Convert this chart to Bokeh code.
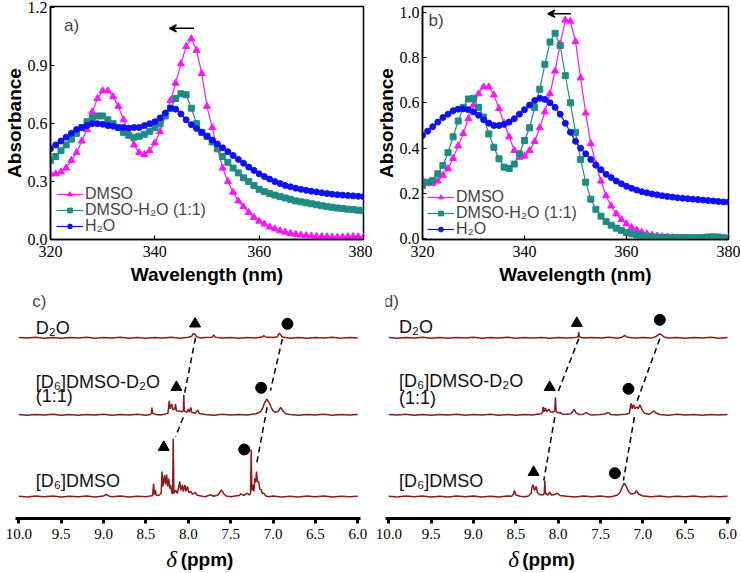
from bokeh.plotting import figure
from bokeh.layouts import row, column
from bokeh.models import (Range1d, Legend, LegendItem, Label, Arrow, VeeHead,
                          FixedTicker, PrintfTickFormatter, ColumnDataSource)
from bokeh.core.properties import value
from bokeh.embed import file_html
from bokeh.resources import INLINE

# ---------------- UV-vis data ----------------
wavelength = list(range(320, 381))

a_dmso = [0.34, 0.34, 0.35, 0.37, 0.41, 0.45, 0.51, 0.57, 0.66, 0.73,
          0.77, 0.77, 0.74, 0.69, 0.62, 0.55, 0.49, 0.45, 0.44, 0.46,
          0.50, 0.56, 0.64, 0.72, 0.81, 0.91, 1.00, 1.04, 0.98, 0.86,
          0.69, 0.58, 0.47, 0.37, 0.30, 0.245, 0.20, 0.17, 0.14, 0.115,
          0.095, 0.08, 0.065, 0.055, 0.045, 0.038, 0.032, 0.027, 0.023, 0.02,
          0.018, 0.016, 0.015, 0.014, 0.013, 0.012, 0.013, 0.014, 0.015, 0.014,
          0.012]
a_mix = [0.41, 0.43, 0.46, 0.49, 0.52, 0.55, 0.58, 0.61, 0.63, 0.64,
         0.64, 0.62, 0.60, 0.58, 0.555, 0.54, 0.53, 0.535, 0.545, 0.56,
         0.58, 0.60, 0.64, 0.68, 0.73, 0.755, 0.75, 0.68, 0.60, 0.555,
         0.535, 0.505, 0.47, 0.43, 0.40, 0.37, 0.345, 0.32, 0.30, 0.28,
         0.26, 0.248, 0.238, 0.23, 0.222, 0.215, 0.208, 0.20, 0.195, 0.19,
         0.185, 0.18, 0.175, 0.17, 0.167, 0.163, 0.16, 0.157, 0.155, 0.152,
         0.15]
a_h2o = [0.47, 0.49, 0.51, 0.53, 0.55, 0.57, 0.58, 0.59, 0.60, 0.60,
         0.597, 0.59, 0.587, 0.58, 0.58, 0.577, 0.58, 0.58, 0.59, 0.60,
         0.61, 0.63, 0.655, 0.68, 0.675, 0.65, 0.62, 0.595, 0.575, 0.555,
         0.535, 0.515, 0.495, 0.475, 0.455, 0.435, 0.415, 0.395, 0.375, 0.358,
         0.34, 0.326, 0.313, 0.30, 0.29, 0.28, 0.273, 0.266, 0.26, 0.255,
         0.25, 0.246, 0.242, 0.238, 0.235, 0.232, 0.23, 0.228, 0.226, 0.224,
         0.222]

b_dmso = [0.26, 0.245, 0.245, 0.255, 0.28, 0.31, 0.355, 0.41, 0.465, 0.53,
          0.59, 0.64, 0.67, 0.67, 0.635, 0.575, 0.51, 0.45, 0.39, 0.36,
          0.365, 0.39, 0.43, 0.49, 0.56, 0.64, 0.74, 0.86, 0.965, 0.96,
          0.87, 0.71, 0.555, 0.42, 0.33, 0.255, 0.19, 0.145, 0.11, 0.085,
          0.066, 0.05, 0.038, 0.029, 0.022, 0.016, 0.012, 0.009, 0.007, 0.005,
          0.004, 0.004, 0.003, 0.003, 0.003, 0.003, 0.003, 0.003, 0.003, 0.002,
          0.002]
b_mix = [0.235, 0.25, 0.257, 0.287, 0.323, 0.38, 0.45, 0.52, 0.58, 0.617,
         0.62, 0.58, 0.537, 0.463, 0.404, 0.353, 0.316, 0.31, 0.33, 0.375,
         0.434, 0.49, 0.58, 0.66, 0.77, 0.868, 0.907, 0.853, 0.72, 0.60,
         0.47, 0.35, 0.25, 0.175, 0.13, 0.10, 0.076, 0.06, 0.047, 0.037,
         0.028, 0.022, 0.017, 0.013, 0.01, 0.008, 0.007, 0.006, 0.006, 0.005,
         0.005, 0.005, 0.005, 0.005, 0.005, 0.006, 0.008, 0.009, 0.008, 0.005,
         0.002]
b_h2o = [0.456, 0.475, 0.495, 0.515, 0.535, 0.55, 0.565, 0.572, 0.573, 0.57,
         0.56, 0.545, 0.525, 0.51, 0.50, 0.50, 0.505, 0.515, 0.53, 0.55,
         0.57, 0.59, 0.61, 0.62, 0.615, 0.60, 0.58, 0.55, 0.51, 0.47,
         0.43, 0.40, 0.375, 0.35, 0.325, 0.305, 0.285, 0.27, 0.255, 0.243,
         0.232, 0.223, 0.215, 0.208, 0.203, 0.198, 0.194, 0.19, 0.187, 0.184,
         0.181, 0.179, 0.177, 0.175, 0.173, 0.171, 0.169, 0.167, 0.165, 0.163,
         0.162]

uv_names = ["DMSO", "DMSO-H\u2082O (1:1)", "H\u2082O"]
a_yticks = [0.0, 0.3, 0.6, 0.9, 1.2]
b_yticks = [0.0, 0.2, 0.4, 0.6, 0.8, 1.0]
x_ticks_uv = [320, 340, 360, 380]
a_shift_arrow = [347.5, 342.8, 1.094]   # start nm, end nm, absorbance
b_shift_arrow = [349.1, 344.6, 0.993]

# ---------------- 1H NMR data (ppm, intensity above own baseline) ----------------
c_dmso = [(10.0, 0.3), (9.9, -0.4), (9.8, 0.5), (9.7, -0.3), (9.6, 0.4), (9.5, -0.5), (9.4, 0.3),
          (9.3, -0.2), (9.2, 0.5), (9.1, -0.4), (9.0, 0.6), (8.97, 2.0), (8.93, 0.3), (8.9, -0.3),
          (8.8, 0.4), (8.7, -0.5), (8.6, 0.3), (8.5, -0.2), (8.45, 0.6), (8.42, 1.0), (8.41, 13.0),
          (8.40, 2.0), (8.39, 6.5), (8.38, 1.5), (8.35, 1.0), (8.32, 3.0), (8.31, 25.0), (8.30, 10.0),
          (8.28, 21.5), (8.27, 12.0), (8.255, 22.0), (8.245, 10.0), (8.23, 18.0), (8.22, 8.0),
          (8.21, 11.5), (8.195, 4.0), (8.185, 2.5), (8.178, 57.7), (8.17, 3.0), (8.15, 6.5),
          (8.13, 3.0), (8.10, 15.0), (8.09, 6.0), (8.07, 11.5), (8.06, 5.0), (8.04, 11.5),
          (8.03, 5.0), (8.01, 10.0), (7.995, 4.0), (7.97, 5.0), (7.95, 2.0), (7.92, 4.3),
          (7.90, 1.5), (7.85, 0.5), (7.80, -0.3), (7.74, 1.7), (7.70, 0.3), (7.65, 1.5),
          (7.61, 6.7), (7.58, 2.5), (7.55, 0.4), (7.50, -0.3), (7.45, 0.5), (7.40, 1.0),
          (7.38, 2.7), (7.35, 1.0), (7.30, 3.3), (7.28, 1.5), (7.265, 3.0), (7.258, 46.7),
          (7.25, 6.0), (7.235, 11.7), (7.225, 5.0), (7.215, 18.3), (7.205, 14.0), (7.195, 25.0),
          (7.185, 15.0), (7.17, 15.0), (7.155, 7.0), (7.14, 6.7), (7.125, 3.0), (7.11, 3.3),
          (7.09, 0.8), (7.05, -0.3), (7.0, 0.5), (6.9, -0.4), (6.8, 0.3), (6.7, -0.5), (6.6, 0.4),
          (6.5, -0.2), (6.4, 0.5), (6.3, -0.4), (6.2, 0.3), (6.1, -0.3), (6.0, 0.2)]
c_mix = [(10.0, 0.3), (9.9, -0.5), (9.8, 0.4), (9.7, -0.3), (9.6, 0.5), (9.5, -0.4), (9.4, 0.3),
         (9.3, -0.5), (9.2, 0.4), (9.1, -0.3), (9.0, 0.5), (8.9, -0.4), (8.8, 0.3), (8.7, -0.3),
         (8.6, 0.5), (8.5, -0.4), (8.45, 0.3), (8.435, 1.5), (8.43, 7.3), (8.42, 1.5), (8.38, 0.3),
         (8.33, -0.3), (8.28, 0.6), (8.24, 1.5), (8.225, 14.0), (8.215, 6.0), (8.195, 10.7),
         (8.18, 5.0), (8.16, 6.0), (8.15, 10.7), (8.14, 4.0), (8.10, 3.5), (8.07, 3.0),
         (8.058, 4.0), (8.053, 20.0), (8.048, 4.0), (8.02, 2.5), (8.0, 5.7), (7.99, 2.5),
         (7.97, 7.3), (7.96, 2.5), (7.92, 1.5), (7.89, 4.7), (7.87, 1.2), (7.8, 0.3), (7.7, -0.4),
         (7.6, 0.5), (7.5, -0.3), (7.4, 0.4), (7.3, -0.2), (7.25, 0.6), (7.2, 1.0), (7.15, 3.0),
         (7.12, 7.0), (7.10, 12.0), (7.08, 15.0), (7.07, 15.7), (7.06, 14.0), (7.04, 11.0),
         (7.02, 7.0), (7.0, 4.0), (6.97, 2.5), (6.94, 3.5), (6.91, 7.3), (6.88, 3.5), (6.85, 1.0),
         (6.8, 0.3), (6.7, -0.4), (6.6, 0.4), (6.5, -0.3), (6.4, 0.5), (6.3, -0.4), (6.2, 0.3),
         (6.1, -0.3), (6.0, 0.2)]
c_d2o = [(10.0, 0.4), (9.9, -0.3), (9.8, 0.5), (9.7, -0.4), (9.6, 0.3), (9.5, -0.5), (9.4, 0.4),
         (9.3, -0.3), (9.2, 0.5), (9.1, -0.4), (9.0, 0.3), (8.9, -0.3), (8.8, 0.5), (8.7, -0.4),
         (8.6, 0.3), (8.5, -0.5), (8.4, 0.4), (8.3, -0.3), (8.2, 0.5), (8.1, -0.4), (8.0, 0.6),
         (7.96, 1.5), (7.945, 4.0), (7.93, 4.0), (7.92, 3.5), (7.905, 1.2), (7.85, -0.3), (7.8, 0.4),
         (7.72, 0.5), (7.70, 3.0), (7.68, 0.5), (7.6, -0.3), (7.5, 0.3), (7.4, -0.4), (7.3, 0.4),
         (7.2, -0.2), (7.12, 1.0), (7.11, 2.3), (7.09, 0.8), (7.0, 0.3), (6.95, 1.0), (6.925, 4.7),
         (6.91, 3.0), (6.89, 0.8), (6.85, 0.2), (6.8, -0.4), (6.7, 0.3), (6.6, -0.5), (6.5, 0.4),
         (6.4, -0.3), (6.3, 0.5), (6.2, -0.4), (6.1, 0.3), (6.0, -0.2)]

d_dmso = [(10.0, 0.3), (9.9, -0.4), (9.8, 0.5), (9.7, -0.3), (9.6, 0.4), (9.5, -0.5), (9.4, 0.3),
          (9.3, -0.4), (9.2, 0.5), (9.1, -0.3), (9.0, 0.4), (8.9, -0.5), (8.8, 0.3), (8.7, -0.4),
          (8.6, 0.5), (8.55, 0.3), (8.53, 2.0), (8.516, 6.0), (8.5, 1.5), (8.45, 0.3), (8.4, -0.3),
          (8.35, 0.5), (8.32, 3.0), (8.307, 10.0), (8.295, 11.7), (8.28, 6.0), (8.26, 10.0),
          (8.245, 4.0), (8.22, 2.0), (8.18, 1.5), (8.165, 3.0), (8.158, 16.0), (8.15, 3.0),
          (8.12, 1.5), (8.1, 4.3), (8.08, 1.5), (8.04, 2.0), (8.01, 3.3), (7.98, 1.0), (7.9, 0.3),
          (7.8, -0.4), (7.7, 0.4), (7.6, -0.3), (7.5, 0.5), (7.4, -0.4), (7.35, 0.3), (7.3, 1.5),
          (7.27, 4.0), (7.24, 10.0), (7.22, 13.3), (7.20, 11.0), (7.17, 5.0), (7.14, 2.5),
          (7.10, 3.0), (7.075, 5.7), (7.05, 2.5), (7.0, 0.4), (6.9, -0.3), (6.8, 0.5), (6.7, -0.4),
          (6.6, 0.3), (6.5, -0.3), (6.4, 0.5), (6.3, -0.4), (6.2, 0.3), (6.1, -0.2), (6.0, 0.3)]
d_mix = [(10.0, 0.4), (9.9, -0.3), (9.8, 0.5), (9.7, -0.4), (9.6, 0.3), (9.5, -0.5), (9.4, 0.4),
         (9.3, -0.3), (9.2, 0.5), (9.1, -0.4), (9.0, 0.3), (8.9, -0.3), (8.8, 0.5), (8.7, -0.4),
         (8.6, 0.3), (8.5, -0.5), (8.4, 0.4), (8.3, -0.3), (8.25, 0.5), (8.2, 1.0), (8.185, 3.0),
         (8.177, 8.0), (8.165, 3.0), (8.15, 6.7), (8.135, 3.0), (8.11, 5.7), (8.09, 3.0),
         (8.06, 2.5), (8.04, 4.0), (8.032, 17.3), (8.025, 3.5), (8.0, 2.0), (7.98, 2.3),
         (7.95, 0.8), (7.9, 0.5), (7.85, 1.0), (7.82, 4.0), (7.81, 5.7), (7.79, 2.0), (7.75, 0.3),
         (7.7, 0.6), (7.67, 2.3), (7.64, 0.6), (7.6, -0.3), (7.5, 0.4), (7.45, 0.8), (7.41, 2.3),
         (7.38, 0.4), (7.3, -0.3), (7.25, 0.4), (7.2, 0.6), (7.16, 1.5), (7.145, 9.0),
         (7.138, 11.3), (7.125, 6.0), (7.11, 10.0), (7.095, 6.0), (7.07, 8.0), (7.055, 6.0),
         (7.035, 10.0), (7.03, 9.0), (7.01, 5.0), (7.0, 4.0), (6.98, 1.5), (6.93, 0.5),
         (6.89, 2.5), (6.87, 4.0), (6.85, 2.0), (6.8, 0.3), (6.7, -0.4), (6.6, 0.5), (6.5, -0.3),
         (6.4, 0.4), (6.3, -0.5), (6.2, 0.3), (6.1, -0.3), (6.0, 0.4)]
d_d2o = [(10.0, 0.3), (9.9, -0.4), (9.8, 0.4), (9.7, -0.3), (9.6, 0.5), (9.5, -0.4), (9.4, 0.3),
         (9.3, -0.5), (9.2, 0.4), (9.1, -0.3), (9.0, 0.5), (8.9, -0.4), (8.8, 0.3), (8.7, -0.3),
         (8.6, 0.5), (8.5, -0.4), (8.4, 0.3), (8.3, -0.3), (8.2, 0.4), (8.1, -0.5), (8.0, 0.3),
         (7.9, -0.3), (7.8, 0.4), (7.765, 0.8), (7.757, 5.7), (7.75, 0.8), (7.7, -0.3), (7.6, 0.4),
         (7.5, -0.3), (7.4, 0.5), (7.3, -0.4), (7.25, 0.5), (7.21, 2.3), (7.18, 0.5), (7.1, -0.3),
         (7.0, 0.4), (6.9, -0.3), (6.85, 1.0), (6.82, 3.0), (6.80, 4.0), (6.78, 3.0), (6.75, 0.8),
         (6.7, -0.3), (6.6, 0.4), (6.5, -0.4), (6.4, 0.3), (6.3, -0.3), (6.2, 0.5), (6.1, -0.4),
         (6.0, 0.3)]

nmr_offsets = [0.0, 81.7, 158.7]          # [D6]DMSO, mixture, D2O baselines
nmr_ticks = [10.0, 9.5, 9.0, 8.5, 8.0, 7.5, 7.0, 6.5, 6.0]
nmr_names = ["[D\u2086]DMSO", "[D\u2086]DMSO-D\u2082O", "(1:1)", "D\u2082O"]

c_label_y = [16.0, 115.0, 101.0, 168.5]
d_label_y = [16.0, 116.0, 99.0, 169.3]

c_tri = ([7.92, 8.14, 8.29], [172.7, 109.3, 49.3])
c_dot = ([6.83, 7.14, 7.34], [172.7, 108.7, 47.0])
d_tri = ([7.78, 8.10, 8.29], [173.3, 109.3, 24.3])
d_dot = ([6.80, 7.17, 7.33], [176.7, 107.7, 23.3])

# dashed guide lines: (x0, y0, x1, y1)
c_links = [(7.915, 158.7, 8.053, 99.3), (8.06, 79.0, 8.15, 60.0),
           (6.89, 157.7, 7.03, 106.0), (7.07, 89.3, 7.195, 32.0)]
d_links = [(7.757, 157.7, 8.01, 102.7), (8.04, 79.3, 8.17, 16.0),
           (6.80, 157.7, 7.07, 95.0), (7.10, 79.3, 7.23, 16.0)]

# ---------------- styling ----------------
SANS = "Liberation Sans"
SERIF = "Liberation Serif"
MAGENTA = "#ff14ff"
TEAL = "#1f8c84"
BLUE = "#1010f5"
NMR_RED = "#8b1a1a"


def uv_panel(width, bl, br, bb, yrange, yticks, series, leg_x, leg_ys, tag, tag_pos, arrow):
    p = figure(width=width, height=291, x_range=Range1d(320, 380), y_range=Range1d(*yrange),
               output_backend="svg", toolbar_location=None,
               min_border_left=bl, min_border_right=br, min_border_top=6, min_border_bottom=bb)
    p.outline_line_color = "black"
    p.outline_line_width = 1.5
    p.grid.visible = False
    for ax in (p.xaxis[0], p.yaxis[0]):
        ax.major_tick_in = 4
        ax.major_tick_out = 0
        ax.minor_tick_line_color = None
        ax.axis_line_width = 1.5
        ax.major_tick_line_width = 1.2
        ax.major_label_text_font = SERIF
        ax.major_label_text_font_size = "16px"
        ax.major_label_text_color = "black"
        ax.axis_label_text_font = SANS
        ax.axis_label_text_font_style = "bold"
        ax.axis_label_text_font_size = "19px"
        ax.axis_label_text_color = "black"
    p.xaxis.ticker = FixedTicker(ticks=x_ticks_uv)
    p.yaxis.ticker = FixedTicker(ticks=yticks)
    p.yaxis.formatter = PrintfTickFormatter(format="%.1f")
    p.xaxis.axis_label = "Wavelength (nm)"
    p.yaxis.axis_label = "Absorbance"
    p.xaxis.major_label_standoff = 6
    p.xaxis.axis_label_standoff = 4
    p.yaxis.major_label_standoff = 3
    p.yaxis.axis_label_standoff = 0

    for (name, ys, color, marker, msize), ly in zip(series, leg_ys):
        src = ColumnDataSource(dict(x=wavelength, y=ys))
        ln = p.line("x", "y", source=src, color=color, line_width=1.2)
        sc = p.scatter("x", "y", source=src, marker=marker, size=msize, color=color)
        leg = Legend(items=[LegendItem(label=name, renderers=[ln, sc])], location=(leg_x, ly),
                     label_text_font=SANS, label_text_font_size="16px",
                     glyph_width=27, glyph_height=12, label_height=12, label_standoff=2,
                     spacing=0, padding=0, margin=0,
                     border_line_color=None, background_fill_alpha=0)
        p.add_layout(leg)

    p.add_layout(Label(x=tag_pos[0], y=tag_pos[1], text=tag, text_font=SANS,
                       text_font_size="17px", text_baseline="middle", text_align="left"))
    p.add_layout(Arrow(x_start=arrow[0], y_start=arrow[2], x_end=arrow[1], y_end=arrow[2],
                       line_width=1.5, line_color="black",
                       end=VeeHead(size=7, line_color="black", fill_color="black", line_width=1.5)))
    return p


def nmr_panel(width, bl, br, xr, spectra, label_x, label_y, tri, dot, links, tag, tag_pos):
    p = figure(width=width, height=257, x_range=Range1d(*xr), y_range=Range1d(-22.0, 205.0),
               y_axis_location=None, output_backend="svg", toolbar_location=None,
               min_border_left=bl, min_border_right=br, min_border_top=0, min_border_bottom=30)
    p.outline_line_color = None
    p.grid.visible = False
    ax = p.xaxis[0]
    ax.ticker = FixedTicker(ticks=nmr_ticks)
    ax.formatter = PrintfTickFormatter(format="%.1f")
    ax.axis_line_width = 3
    ax.major_tick_line_width = 3
    ax.major_tick_out = 5
    ax.major_tick_in = 0
    ax.minor_tick_line_color = None
    ax.major_label_text_font = SERIF
    ax.major_label_text_font_size = "15px"
    ax.major_label_text_color = "black"
    ax.major_label_standoff = 5

    for spec, off in zip(spectra, nmr_offsets):
        xs = [s[0] for s in spec]
        ys = [s[1] + off for s in spec]
        p.line(xs, ys, color=NMR_RED, line_width=1.5)

    p.segment(x0=[l[0] for l in links], y0=[l[1] for l in links],
              x1=[l[2] for l in links], y1=[l[3] for l in links],
              line_color="black", line_width=1.5, line_dash="6 4")
    p.scatter(tri[0], tri[1], marker="triangle", size=11, color="black")
    p.scatter(dot[0], dot[1], marker="circle", size=11, color="black")

    p.text(x=[label_x] * len(nmr_names), y=label_y, text=nmr_names,
           text_font=value(SANS), text_font_size="18px", text_color="#111111",
           text_baseline="middle", text_align="left")

    p.add_layout(Label(x=tag_pos[0], y=tag_pos[1], text=tag, text_font=SANS,
                       text_font_size="17px", text_baseline="middle", text_align="left"))
    return p


def delta_strip(width, bl, br, xr, dx):
    p = figure(width=width, height=24, x_range=Range1d(*xr), y_range=Range1d(0, 24),
               x_axis_location=None, y_axis_location=None, output_backend="svg",
               toolbar_location=None, min_border_left=bl, min_border_right=br,
               min_border_top=0, min_border_bottom=0)
    p.outline_line_color = None
    p.grid.visible = False
    p.text(x=[dx[0]], y=[13], text=["\u03b4"], text_font=value(SERIF),
           text_font_style="italic", text_font_size="23px", text_color="black",
           text_baseline="middle", text_align="left")
    p.text(x=[dx[1]], y=[13], text=["(ppm)"], text_font=value(SANS),
           text_font_style="bold", text_font_size="19px", text_color="black",
           text_baseline="middle", text_align="left")
    return p


pa = uv_panel(372, 49, 9, 50, (0.0, 1.207), a_yticks,
              [(uv_names[0], a_dmso, MAGENTA, "triangle", 7),
               (uv_names[1], a_mix, TEAL, "square", 6),
               (uv_names[2], a_h2o, BLUE, "circle", 6)],
              6, [36, 20, 4], "a)", (322.6, 1.106), a_shift_arrow)
pb = uv_panel(368, 47, 12, 52, (-0.003, 1.025), b_yticks,
              [(uv_names[0], b_dmso, MAGENTA, "triangle", 7),
               (uv_names[1], b_mix, TEAL, "square", 6),
               (uv_names[2], b_h2o, BLUE, "circle", 6)],
              5, [33, 17, 1], "b)", (321.2, 0.962), b_shift_arrow)

c_xr = (10.039, 5.968)
d_xr = (10.039, 5.965)
pc = nmr_panel(372, 15, 12, c_xr, [c_dmso, c_mix, c_d2o], 9.80, c_label_y,
               c_tri, c_dot, c_links, "c)", (9.84, 195.0))
pd = nmr_panel(368, 13, 10, d_xr, [d_dmso, d_mix, d_d2o], 9.88, d_label_y,
               d_tri, d_dot, d_links, "d)", (10.06, 195.0))
lc = delta_strip(372, 15, 12, c_xr, (8.26, 8.09))
ld = delta_strip(368, 13, 10, d_xr, (8.59, 8.425))

layout = column(row(pa, pb), row(pc, pd), row(lc, ld))
open("out.html", "w").write(file_html(layout, INLINE, "figure"))
